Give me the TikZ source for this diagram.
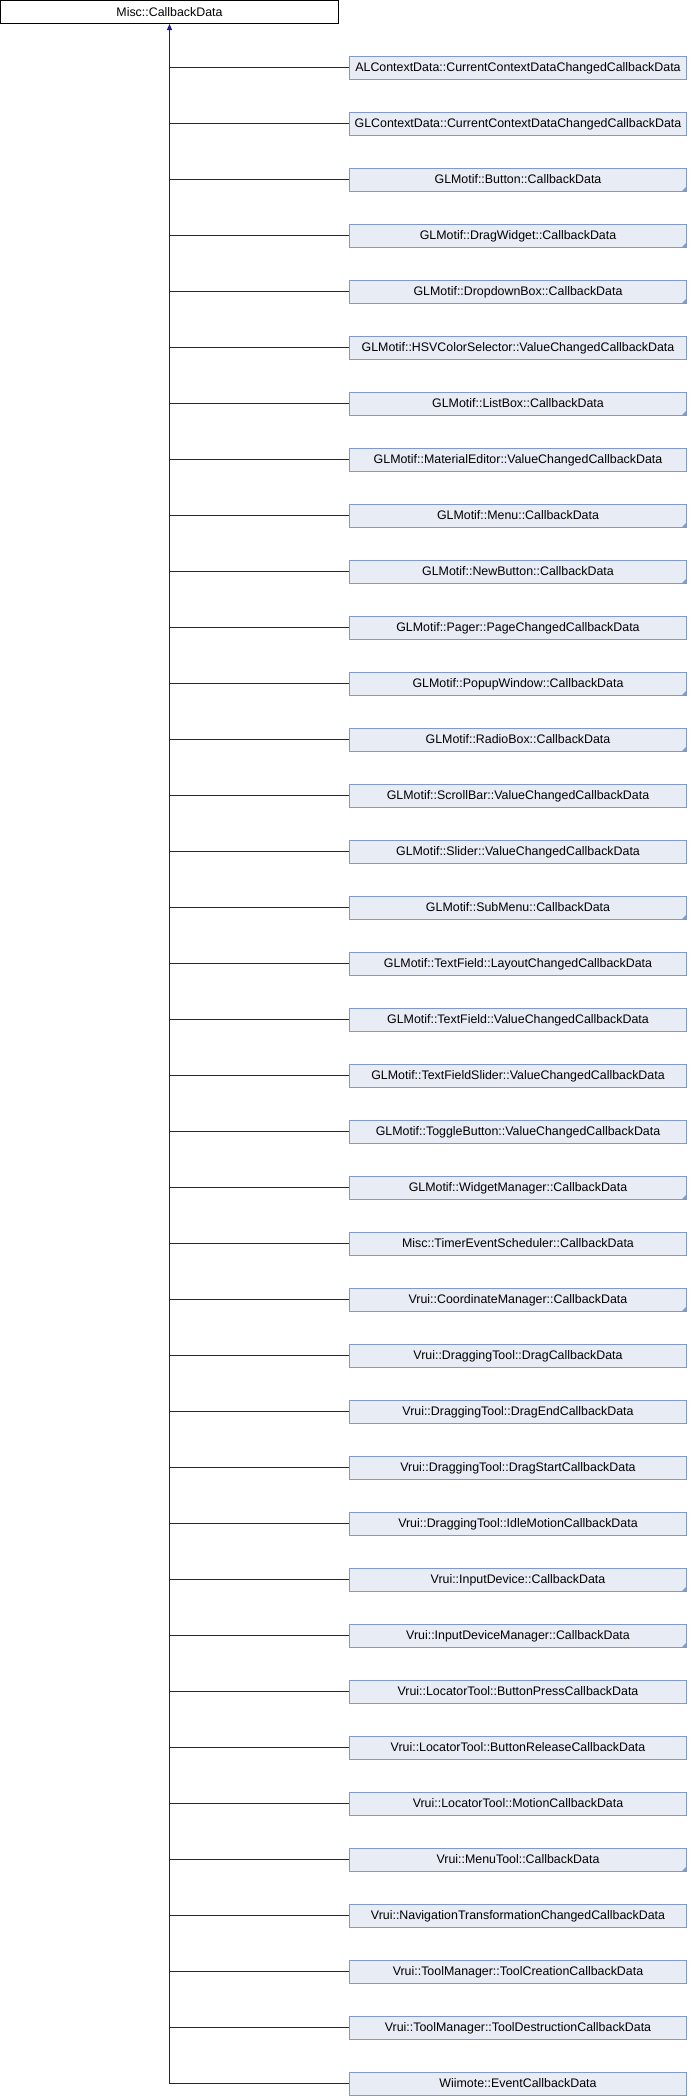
\documentclass[tikz,border=0pt]{standalone}
\usepackage{fontspec}
\setmainfont{Liberation Sans}
\usetikzlibrary{arrows.meta}
\definecolor{edgeblue}{HTML}{1A1A8C}
\definecolor{boxfill}{HTML}{E8ECF5}
\definecolor{boxline}{HTML}{7F99CE}
\tikzset{
  lbl/.style={font=\fontsize{12.4}{14}\selectfont, text height=8.9pt, text depth=0pt, inner sep=0pt},
  rootbox/.style={lbl, draw=black, fill=white, line width=1pt, minimum width=338pt, minimum height=23pt},
  childbox/.style={lbl, draw=boxline, fill=boxfill, line width=1pt, minimum width=337pt, minimum height=23pt},
  link/.style={draw=edgeblue, line width=1pt},
  cornermark/.style={fill=boxline}
}
\begin{document}
\begin{tikzpicture}[x=1pt,y=1pt]
\useasboundingbox (0,0) rectangle (688,-2096);
\node[rootbox] (misc) at (169.5,-12) {Misc::CallbackData};
\foreach \t/\c [count=\i from 0] in {
ALContextData::CurrentContextDataChangedCallbackData/0,
GLContextData::CurrentContextDataChangedCallbackData/0,
GLMotif::Button::CallbackData/1,
GLMotif::DragWidget::CallbackData/1,
GLMotif::DropdownBox::CallbackData/1,
GLMotif::HSVColorSelector::ValueChangedCallbackData/0,
GLMotif::ListBox::CallbackData/1,
GLMotif::MaterialEditor::ValueChangedCallbackData/0,
GLMotif::Menu::CallbackData/1,
GLMotif::NewButton::CallbackData/1,
GLMotif::Pager::PageChangedCallbackData/0,
GLMotif::PopupWindow::CallbackData/1,
GLMotif::RadioBox::CallbackData/1,
GLMotif::ScrollBar::ValueChangedCallbackData/0,
GLMotif::Slider::ValueChangedCallbackData/0,
GLMotif::SubMenu::CallbackData/1,
GLMotif::TextField::LayoutChangedCallbackData/0,
GLMotif::TextField::ValueChangedCallbackData/0,
GLMotif::TextFieldSlider::ValueChangedCallbackData/0,
GLMotif::ToggleButton::ValueChangedCallbackData/0,
GLMotif::WidgetManager::CallbackData/1,
Misc::TimerEventScheduler::CallbackData/0,
Vrui::CoordinateManager::CallbackData/1,
Vrui::DraggingTool::DragCallbackData/0,
Vrui::DraggingTool::DragEndCallbackData/0,
Vrui::DraggingTool::DragStartCallbackData/0,
Vrui::DraggingTool::IdleMotionCallbackData/0,
Vrui::InputDevice::CallbackData/1,
Vrui::InputDeviceManager::CallbackData/1,
Vrui::LocatorTool::ButtonPressCallbackData/0,
Vrui::LocatorTool::ButtonReleaseCallbackData/0,
Vrui::LocatorTool::MotionCallbackData/0,
Vrui::MenuTool::CallbackData/1,
Vrui::NavigationTransformationChangedCallbackData/0,
Vrui::ToolManager::ToolCreationCallbackData/0,
Vrui::ToolManager::ToolDestructionCallbackData/0,
Wiimote::EventCallbackData/0}{
  \node[childbox] (c\i) at (518,{-67.5-56*\i}) {\t};
  \ifnum\c=1
    \fill[cornermark] ([xshift=-5pt,yshift=0.5pt]c\i.south east) -- ([xshift=-0.5pt,yshift=0.5pt]c\i.south east) -- ([xshift=-0.5pt,yshift=5pt]c\i.south east) -- cycle;
  \fi
  \draw[link] (misc.south |- c\i.west) -- (c\i.west);
}
\draw[link, -{Triangle[length=6pt,width=5pt]}] (misc.south |- c36.west) -- (misc.south);
\end{tikzpicture}
\end{document}
